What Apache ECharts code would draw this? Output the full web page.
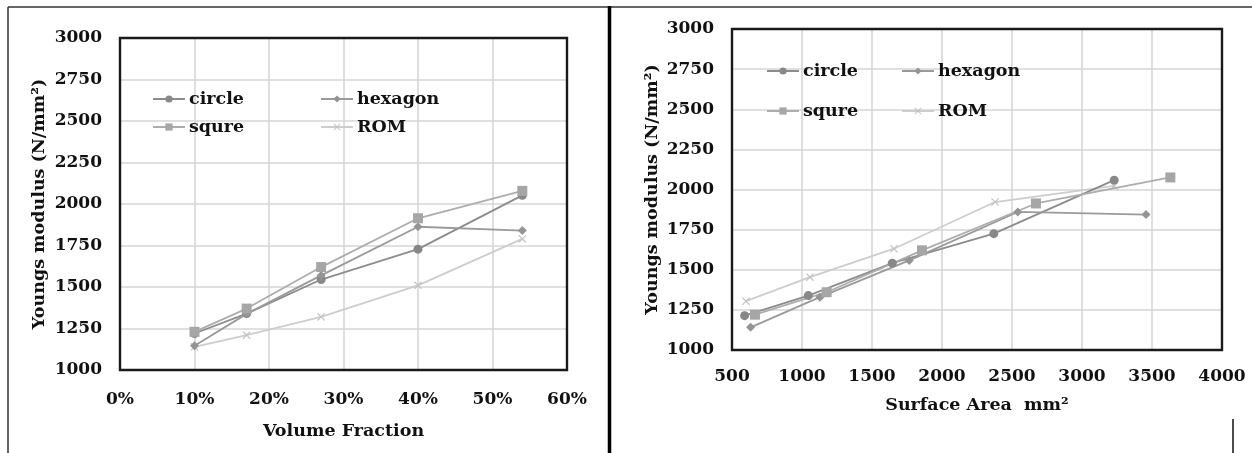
<!DOCTYPE html>
<html>
<head>
<meta charset="utf-8">
<script src="https://cdn.jsdelivr.net/npm/echarts@6/dist/echarts.min.js"></script>
<style>
html,body{margin:0;padding:0;background:#fff;}
#c{width:1252px;height:453px;}
</style>
</head>
<body>
<div id="c"></div>
<script>
// ---- Data: left chart (Volume Fraction) ----
const volumeFraction = [0.10, 0.17, 0.27, 0.40, 0.54];
const vfCircle  = [1220, 1340, 1545, 1728, 2052];
const vfHexagon = [1146, 1338, 1570, 1863, 1840];
const vfSqure   = [1230, 1370, 1620, 1914, 2079];
const vfROM     = [1140, 1210, 1320, 1510, 1790];

// ---- Data: right chart (Surface Area) ----
const saCircleX  = [590, 1045, 1645, 2370, 3230];
const saCircle   = [1214, 1339, 1541, 1725, 2058];
const saHexagonX = [633, 1128, 1766, 2541, 3457];
const saHexagon  = [1141, 1329, 1558, 1860, 1844];
const saSqureX   = [664, 1176, 1857, 2671, 3631];
const saSqure    = [1220, 1360, 1621, 1913, 2075];
const saROMX     = [600, 1057, 1657, 2379, 3230];
const saROM      = [1304, 1454, 1631, 1922, 2022];

const seriesNames = ['circle', 'hexagon', 'squre', 'ROM'];
const yTitle = 'Youngs modulus (N/mm\u00B2)';
const xTitleLeft = 'Volume Fraction';
const xTitleRight = 'Surface Area  mm\u00B2';

const FONT = 'DejaVu Serif';
const crossPath = 'path://M0,1L1,0L5,4L9,0L10,1L6,5L10,9L9,10L5,6L1,10L0,9L4,5Z';
const styles = {
  circle:  {symbol: 'circle',  size: 9,  line: '#8c8c8c', fill: '#888888'},
  hexagon: {symbol: 'diamond', size: 9,  line: '#9a9a9a', fill: '#949494'},
  squre:   {symbol: 'rect',    size: 10, line: '#adadad', fill: '#a6a6a6'},
  ROM:     {symbol: crossPath, size: 8,  line: '#cdcdcd', fill: '#c2c2c2'}
};

function zip(xs, ys){ return xs.map((x, i) => [x, ys[i]]); }

function mkSeries(name, data, idx){
  const s = styles[name];
  return {
    name: name, type: 'line', xAxisIndex: idx, yAxisIndex: idx,
    data: data, symbol: s.symbol, symbolSize: s.size, showSymbol: true,
    lineStyle: {color: s.line, width: 1.8},
    itemStyle: {color: s.fill},
    emphasis: {disabled: true}, animation: false, z: name === 'ROM' ? 1 : 3
  };
}

const axisLabelStyle = {color: '#111', fontFamily: FONT, fontWeight: 'bold', fontSize: 17};
const nameStyle = {color: '#111', fontFamily: FONT, fontWeight: 'bold', fontSize: 17.5};
const splitLine = {show: true, showMinLine: false, showMaxLine: false, lineStyle: {color: '#d6d6d6', width: 1.6}};
const plain = v => String(v);

function yAxis(idx, gap){
  return {
    type: 'value', gridIndex: idx, min: 1000, max: 3000, interval: 250,
    axisLine: {show: false}, axisTick: {show: false},
    axisLabel: Object.assign({margin: 18, formatter: plain}, axisLabelStyle),
    splitLine: splitLine,
    name: yTitle, nameLocation: 'middle', nameGap: gap, nameRotate: 90,
    nameTextStyle: nameStyle
  };
}

function legendItem(name, left, top){
  return {
    data: [name], left: left, top: top, orient: 'horizontal',
    itemWidth: 32, itemHeight: 9, selectedMode: false,
    textStyle: {color: '#111', fontFamily: FONT, fontWeight: 'bold', fontSize: 17.5, padding: [0,0,0,-1]},
    padding: 0
  };
}

const option = {
  backgroundColor: '#fff',
  animation: false,
  grid: [
    {left: 120, top: 38, width: 447, height: 332, show: true, borderColor: '#1a1a1a', borderWidth: 2.4, backgroundColor: 'transparent', z: 5},
    {left: 732, top: 29, width: 490, height: 321, show: true, borderColor: '#1a1a1a', borderWidth: 2.4, backgroundColor: 'transparent', z: 5}
  ],
  xAxis: [
    {
      type: 'value', gridIndex: 0, min: 0, max: 0.6, interval: 0.1,
      axisLine: {show: false}, axisTick: {show: false},
      axisLabel: Object.assign({margin: 21, formatter: v => Math.round(v * 100) + '%'}, axisLabelStyle),
      splitLine: splitLine,
      name: xTitleLeft, nameLocation: 'middle', nameGap: 52, nameTextStyle: nameStyle
    },
    {
      type: 'value', gridIndex: 1, min: 500, max: 4000, interval: 500,
      axisLine: {show: false}, axisTick: {show: false},
      axisLabel: Object.assign({margin: 18, formatter: plain}, axisLabelStyle),
      splitLine: splitLine,
      name: xTitleRight, nameLocation: 'middle', nameGap: 46, nameTextStyle: nameStyle
    }
  ],
  yAxis: [yAxis(0, 72), yAxis(1, 71)],
  legend: [
    legendItem('circle', 152, 90),
    legendItem('hexagon', 320, 90),
    legendItem('squre', 152, 118),
    legendItem('ROM', 320, 118),
    legendItem('circle', 766, 62),
    legendItem('hexagon', 901, 62),
    legendItem('squre', 766, 102),
    legendItem('ROM', 901, 102)
  ],
  series: [
    mkSeries('circle',  zip(volumeFraction, vfCircle), 0),
    mkSeries('hexagon', zip(volumeFraction, vfHexagon), 0),
    mkSeries('squre',   zip(volumeFraction, vfSqure), 0),
    mkSeries('ROM',     zip(volumeFraction, vfROM), 0),
    mkSeries('circle',  zip(saCircleX, saCircle), 1),
    mkSeries('hexagon', zip(saHexagonX, saHexagon), 1),
    mkSeries('squre',   zip(saSqureX, saSqure), 1),
    mkSeries('ROM',     zip(saROMX, saROM), 1)
  ],
  graphic: [
    {type: 'line', shape: {x1: 8, y1: 7, x2: 608, y2: 7}, style: {stroke: '#333', lineWidth: 1.5}},
    {type: 'line', shape: {x1: 8, y1: 7, x2: 8, y2: 453}, style: {stroke: '#333', lineWidth: 1.5}},
    {type: 'line', shape: {x1: 610, y1: 7, x2: 1252, y2: 7}, style: {stroke: '#333', lineWidth: 1.5}},
    {type: 'line', shape: {x1: 609.5, y1: 6, x2: 609.5, y2: 453}, style: {stroke: '#000', lineWidth: 3.5}},
    {type: 'line', shape: {x1: 1233, y1: 419, x2: 1233, y2: 453}, style: {stroke: '#111', lineWidth: 1.5}}
  ]
};

const chart = echarts.init(document.getElementById('c'), null, {renderer: 'canvas'});
chart.setOption(option);
</script>
</body>
</html>
